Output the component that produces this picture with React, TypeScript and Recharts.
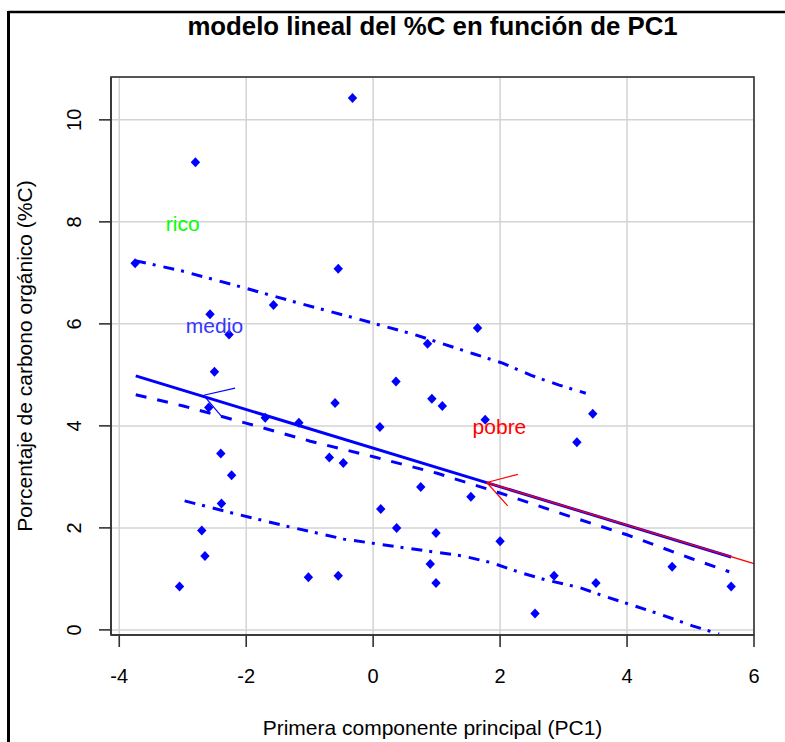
import {
  ScatterChart,
  Scatter,
  XAxis,
  YAxis,
  CartesianGrid,
  ReferenceLine,
  ReferenceDot,
} from "recharts";

// ejes
const xTicks = [-4, -2, 0, 2, 4, 6];
const yTicks = [0, 2, 4, 6, 8, 10];
const xDominio = [-4.13, 6];
const yDominio = [-0.1, 10.84];

// observaciones: PC1 y %C
const pc1 = [
  -3.75, -2.8, -0.325, -2.57, -2.27, -1.57, -0.55, 1.645, 0.857, -2.5, -2.59,
  -1.7, -1.17, -0.6, 0.106, 0.36, 0.925, 1.09, 1.765, 3.46, 3.21, -2.4, -2.23,
  -0.69, -0.47, 0.75, 1.54, -2.39, -2.7, -2.65, -3.05, -1.02, -0.55, 0.12, 0.37,
  0.99, 0.9, 0.99, 2.0, 2.55, 2.85, 3.51, 4.71, 5.64,
];
const carbono = [
  7.19, 9.17, 10.43, 6.19, 5.79, 6.37, 7.08, 5.92, 5.61, 5.06, 4.36, 4.16, 4.06,
  4.45, 3.98, 4.87, 4.53, 4.39, 4.12, 4.24, 3.68, 3.46, 3.03, 3.38, 3.27, 2.8,
  2.61, 2.48, 1.95, 1.45, 0.85, 1.03, 1.06, 2.37, 2.0, 1.9, 1.29, 0.92, 1.74,
  0.32, 1.06, 0.92, 1.24, 0.85,
];

// recta de regresión (extremos)
const ajusteX = [-3.74, 5.64];
const ajusteY = [4.98, 1.43];

// suavizado (loess) y bandas de dispersión
const suaveX = [-3.74, -2.99, -1.99, -0.99, 0.02, 1.01, 2.01, 2.99, 4.01, 5.01, 5.61];
const suaveY = [4.61, 4.39, 4.05, 3.7, 3.39, 3.07, 2.68, 2.27, 1.86, 1.4, 1.14];
const superiorX = [-3.75, -3.02, -2.1, -1.18, -0.25, 0.65, 1.59, 2.04, 2.49, 2.93, 3.35];
const superiorY = [7.24, 7.04, 6.73, 6.41, 6.1, 5.79, 5.41, 5.23, 4.99, 4.8, 4.64];
const inferiorX = [-2.97, -2.28, -1.39, -0.46, 0.49, 1.41, 1.86, 2.33, 2.72, 3.25, 3.67, 4.12, 4.56, 5.03, 5.45];
const inferiorY = [2.53, 2.31, 2.04, 1.78, 1.61, 1.45, 1.32, 1.12, 0.98, 0.83, 0.65, 0.47, 0.29, 0.08, -0.08];

// etiquetas de grupos
const grupos = ["rico", "medio", "pobre"];
const gruposX = [-3.0, -2.5, 1.99];
const gruposY = [7.96, 5.97, 3.98];
const gruposColor = ["#00ff00", "#3636ff", "#ff0000"];

// flechas: punta y extremos de las aletas
const flechaMedio = [
  { x: -2.67, y: 4.6 },
  { x: -2.175, y: 4.74 },
  { x: -2.385, y: 4.18 },
];
const flechaPobre = [
  { x: 1.79, y: 2.89 },
  { x: 2.28, y: 3.05 },
  { x: 2.12, y: 2.43 },
];
const lineaPobre = [
  { x: 1.79, y: 2.89 },
  { x: 6.0, y: 1.3 },
];

const zip = (xs: number[], ys: number[]) => xs.map((x, i) => ({ x, y: ys[i] }));

const puntos = zip(pc1, carbono);
const suave = zip(suaveX, suaveY);
const superior = zip(superiorX, superiorY);
const inferior = zip(inferiorX, inferiorY);

const FUENTE = "'Liberation Sans', Arial, sans-serif";
const AZUL = "#0000ff";
const MARCO = { stroke: "#333", strokeWidth: 1.6 };

// área de trazado (márgenes del gráfico)
const AREA = { left: 111, top: 77, right: 754, bottom: 635 };

function Diamante(props: any) {
  const { cx, cy } = props;
  return (
    <polygon
      points={`${cx},${cy - 5} ${cx + 4.7},${cy} ${cx},${cy + 5} ${cx - 4.7},${cy}`}
      fill={AZUL}
    />
  );
}

const Nada = () => <g />;

function TickY(props: any) {
  const { x, y, payload } = props;
  return (
    <text
      x={x}
      y={y}
      transform={`rotate(-90 ${x} ${y})`}
      textAnchor="middle"
      fontSize={20}
      fill="#000"
      fontFamily={FUENTE}
    >
      {payload.value}
    </text>
  );
}

export default function App() {
  return (
    <div
      style={{
        position: "absolute",
        left: 0,
        top: 0,
        width: 785,
        height: 742,
        background: "#fff",
        fontFamily: FUENTE,
      }}
    >
      <ScatterChart
        width={785}
        height={742}
        margin={{ top: AREA.top, right: 785 - AREA.right, bottom: 0, left: 0 }}
      >
        <CartesianGrid stroke="#d3d3d3" strokeWidth={1.5} />
        <XAxis
          type="number"
          dataKey="x"
          domain={xDominio}
          ticks={xTicks}
          interval={0}
          allowDataOverflow
          height={742 - AREA.bottom}
          axisLine={MARCO}
          tickLine={MARCO}
          tickSize={12}
          tickMargin={22}
          tick={{ fontSize: 20, fill: "#000", fontFamily: FUENTE }}
        />
        <YAxis
          type="number"
          dataKey="y"
          domain={yDominio}
          ticks={yTicks}
          interval={0}
          allowDataOverflow
          width={AREA.left}
          axisLine={MARCO}
          tickLine={MARCO}
          tickSize={12}
          tickMargin={18}
          tick={<TickY />}
        />
        <Scatter
          data={superior}
          fill={AZUL}
          shape={Nada}
          line={{ stroke: AZUL, strokeWidth: 3, strokeDasharray: "11 7 3 8" }}
          isAnimationActive={false}
        />
        <Scatter
          data={inferior}
          fill={AZUL}
          shape={Nada}
          line={{ stroke: AZUL, strokeWidth: 3, strokeDasharray: "11 7 3 8" }}
          isAnimationActive={false}
        />
        <Scatter
          data={suave}
          fill={AZUL}
          shape={Nada}
          line={{ stroke: AZUL, strokeWidth: 3, strokeDasharray: "11 11" }}
          isAnimationActive={false}
        />
        <ReferenceLine
          segment={[
            { x: ajusteX[0], y: ajusteY[0] },
            { x: ajusteX[1], y: ajusteY[1] },
          ]}
          stroke={AZUL}
          strokeWidth={3}
        />
        <ReferenceLine segment={[flechaMedio[0], flechaMedio[1]]} stroke={AZUL} strokeWidth={1.2} />
        <ReferenceLine segment={[flechaMedio[0], flechaMedio[2]]} stroke={AZUL} strokeWidth={1.2} />
        <Scatter data={puntos} shape={<Diamante />} isAnimationActive={false} />
        <ReferenceLine segment={lineaPobre} stroke="#ff0000" strokeWidth={1.4} />
        <ReferenceLine segment={[flechaPobre[0], flechaPobre[1]]} stroke="#ff0000" strokeWidth={1.2} />
        <ReferenceLine segment={[flechaPobre[0], flechaPobre[2]]} stroke="#ff0000" strokeWidth={1.2} />
        {grupos.map((g, i) => (
          <ReferenceDot
            key={g}
            x={gruposX[i]}
            y={gruposY[i]}
            r={0}
            fill="none"
            stroke="none"
            label={{
              value: g,
              position: "center",
              fill: gruposColor[i],
              fontSize: 21,
              fontFamily: FUENTE,
            }}
          />
        ))}
      </ScatterChart>
      <svg
        width={785}
        height={742}
        style={{ position: "absolute", left: 0, top: 0, pointerEvents: "none" }}
      >
        <rect
          x={AREA.left}
          y={AREA.top}
          width={AREA.right - AREA.left}
          height={AREA.bottom - AREA.top}
          fill="none"
          stroke="#333"
          strokeWidth={1.6}
        />
        <line x1={8.5} y1={12} x2={785} y2={12} stroke="#000" strokeWidth={2.5} />
        <line x1={8.5} y1={11} x2={8.5} y2={742} stroke="#000" strokeWidth={3} />
        <text
          x={432.5}
          y={35}
          textAnchor="middle"
          fontSize={25.8}
          fontWeight="bold"
          fontFamily={FUENTE}
          fill="#000"
        >
          modelo lineal del %C en función de PC1
        </text>
        <text
          x={432.5}
          y={735}
          textAnchor="middle"
          fontSize={21}
          fontFamily={FUENTE}
          fill="#000"
        >
          Primera componente principal (PC1)
        </text>
        <text
          x={32}
          y={356}
          transform="rotate(-90 32 356)"
          textAnchor="middle"
          fontSize={21}
          fontFamily={FUENTE}
          fill="#000"
        >
          Porcentaje de carbono orgánico (%C)
        </text>
      </svg>
    </div>
  );
}
